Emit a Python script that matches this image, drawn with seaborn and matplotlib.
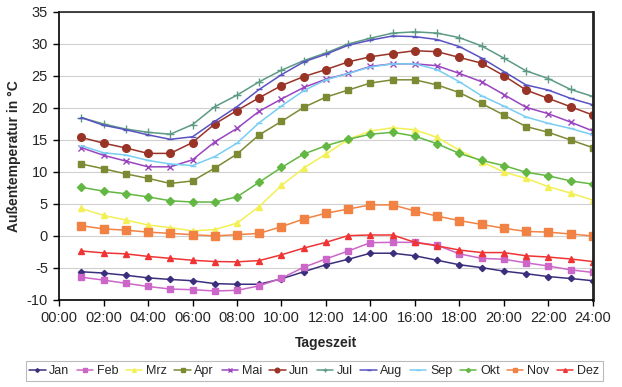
import numpy as np
import pandas as pd
import matplotlib
matplotlib.use("Agg")
import matplotlib.pyplot as plt
import seaborn as sns

hours = list(range(1, 25))
months = ["Jan", "Feb", "Mrz", "Apr", "Mai", "Jun", "Jul", "Aug", "Sep", "Okt", "Nov", "Dez"]

jan = [-5.6, -5.8, -6.15, -6.55, -6.8, -7.0, -7.45, -7.55, -7.55, -6.7, -5.6, -4.5,
       -3.65, -2.7, -2.7, -3.1, -3.8, -4.5, -4.95, -5.5, -5.9, -6.35, -6.65, -7.0]
feb = [-6.45, -6.9, -7.4, -7.9, -8.3, -8.4, -8.6, -8.5, -7.8, -6.6, -4.9, -3.6,
       -2.35, -1.05, -1.0, -1.0, -1.45, -2.8, -3.5, -3.65, -4.2, -4.7, -5.3, -5.7]
mrz = [4.3, 3.2, 2.5, 1.7, 1.3, 0.8, 1.0, 2.0, 4.6, 7.9, 10.6, 12.8,
       15.1, 16.4, 16.9, 16.6, 15.4, 13.4, 11.6, 10.0, 9.0, 7.7, 6.7, 5.6]
apr = [11.25, 10.5, 9.7, 9.0, 8.2, 8.6, 10.6, 12.8, 15.8, 17.9, 20.1, 21.7,
       22.8, 23.9, 24.4, 24.4, 23.6, 22.4, 20.7, 18.9, 17.1, 16.2, 15.0, 13.8]
mai = [13.8, 12.6, 11.7, 10.8, 10.8, 11.9, 14.7, 16.8, 19.5, 21.4, 23.2, 24.5,
       25.4, 26.5, 26.9, 26.9, 26.6, 25.4, 24.1, 22.1, 20.1, 19.1, 17.8, 16.4]
jun = [15.4, 14.5, 13.75, 12.9, 12.9, 14.6, 17.5, 19.6, 21.6, 23.5, 24.9, 26.0,
       27.2, 28.0, 28.5, 28.95, 28.8, 27.9, 27.0, 25.05, 22.8, 21.5, 20.2, 18.9]
jul = [18.5, 17.5, 16.7, 16.2, 15.9, 17.4, 20.2, 22.0, 24.1, 25.9, 27.4, 28.6,
       30.0, 30.9, 31.7, 31.9, 31.7, 31.0, 29.7, 27.8, 25.8, 24.6, 22.9, 21.8]
aug = [18.5, 17.3, 16.6, 15.8, 15.1, 15.5, 17.9, 20.2, 22.9, 25.2, 27.2, 28.4,
       29.8, 30.6, 31.25, 31.15, 30.7, 29.6, 27.8, 25.7, 23.6, 22.8, 21.5, 20.5]
sep = [14.1, 13.0, 12.65, 11.8, 11.25, 11.0, 12.4, 14.5, 17.7, 20.3, 22.7, 24.4,
       25.4, 26.4, 26.9, 26.9, 26.0, 24.1, 21.9, 20.3, 18.6, 17.6, 16.8, 15.8]
okt = [7.6, 7.0, 6.6, 6.1, 5.5, 5.3, 5.3, 6.1, 8.4, 10.7, 12.8, 14.1,
       15.1, 15.9, 16.2, 15.6, 14.4, 12.9, 11.8, 11.0, 9.95, 9.4, 8.6, 8.1]
nov = [1.6, 1.1, 0.9, 0.6, 0.4, 0.2, 0.0, 0.2, 0.4, 1.45, 2.65, 3.55,
       4.2, 4.85, 4.85, 3.9, 3.1, 2.4, 1.8, 1.2, 0.7, 0.6, 0.3, 0.0]
dez = [-2.35, -2.65, -2.8, -3.2, -3.5, -3.8, -4.0, -4.05, -3.85, -2.95, -1.9, -1.0,
       0.05, 0.15, 0.15, -1.0, -1.55, -2.2, -2.6, -2.6, -3.1, -3.3, -3.6, -4.0]

xtick_labels = ["00:00", "02:00", "04:00", "06:00", "08:00", "10:00", "12:00",
                "14:00", "16:00", "18:00", "20:00", "22:00", "24:00"]

series = [jan, feb, mrz, apr, mai, jun, jul, aug, sep, okt, nov, dez]
df = pd.concat([pd.DataFrame({"Stunde": hours, "Temp": s, "Monat": m})
                for m, s in zip(months, series)], ignore_index=True)

colors = {"Jan": "#3b2f7d", "Feb": "#cc66c8", "Mrz": "#f2f055", "Apr": "#7d8a33",
          "Mai": "#9a44c0", "Jun": "#993326", "Jul": "#5c9a84", "Aug": "#5a52c2",
          "Sep": "#78cdf2", "Okt": "#62b842", "Nov": "#f28244", "Dez": "#f03434"}
markers = {"Jan": "D", "Feb": "s", "Mrz": "^", "Apr": "s", "Mai": "x", "Jun": "o",
           "Jul": "+", "Aug": "_", "Sep": "_", "Okt": "D", "Nov": "s", "Dez": "^"}
msizes = {"Jan": 3.2, "Feb": 5.0, "Mrz": 4.5, "Apr": 5.0, "Mai": 5.0, "Jun": 5.5,
          "Jul": 6, "Aug": 5, "Sep": 4, "Okt": 3.6, "Nov": 5.5, "Dez": 4.5}

sns.set_theme(style="white")
plt.rcParams["font.family"] = ["Liberation Sans", "DejaVu Sans"]

fig = plt.figure(figsize=(6.22, 3.87), dpi=100)
ax = fig.add_axes([0.095, 0.225, 0.858, 0.744])

for m in months:
    sub = df[df["Monat"] == m]
    sns.lineplot(data=sub, x="Stunde", y="Temp", ax=ax, color=colors[m],
                 marker=markers[m], markersize=msizes[m], linewidth=1.1,
                 markeredgecolor=colors[m], markeredgewidth=1.0, label=m)

handles, labels = ax.get_legend_handles_labels()
if ax.get_legend() is not None:
    ax.get_legend().remove()

ax.set_xlim(0, 24)
ax.set_ylim(-10, 35)
ax.set_xticks(range(0, 25, 2))
ax.set_xticklabels(xtick_labels, fontsize=10.5)
ax.set_yticks(range(-10, 36, 5))
ax.set_yticklabels([str(v) for v in range(-10, 36, 5)], fontsize=10.5)
ax.yaxis.grid(True, color="#d0d0d0", linewidth=0.8)
ax.xaxis.grid(False)
ax.tick_params(axis="both", which="both", direction="out", length=4, width=1,
               color="black", bottom=True, left=True, pad=4)
for sp in ["left", "bottom"]:
    ax.spines[sp].set_color("black")
    ax.spines[sp].set_linewidth(1.2)
ax.spines["top"].set_color("#222222")
ax.spines["top"].set_linewidth(1.2)
ax.spines["right"].set_color("#222222")
ax.spines["right"].set_linewidth(2.0)

ax.set_xlabel("Tageszeit", fontsize=10, fontweight="bold", labelpad=8)
ax.set_ylabel("Außentemperatur in °C", fontsize=10, fontweight="bold", labelpad=4)

leg = fig.legend(handles, labels, loc="lower center", bbox_to_anchor=(0.505, 0.01),
                 ncol=12, fontsize=9, frameon=True, fancybox=False,
                 handlelength=1.3, handletextpad=0.3, columnspacing=0.6,
                 borderpad=0.3, borderaxespad=0.2, markerscale=0.6)
leg.get_frame().set_edgecolor("#aaaaaa")
leg.get_frame().set_linewidth(0.8)

fig.savefig("out.png", dpi=100)
